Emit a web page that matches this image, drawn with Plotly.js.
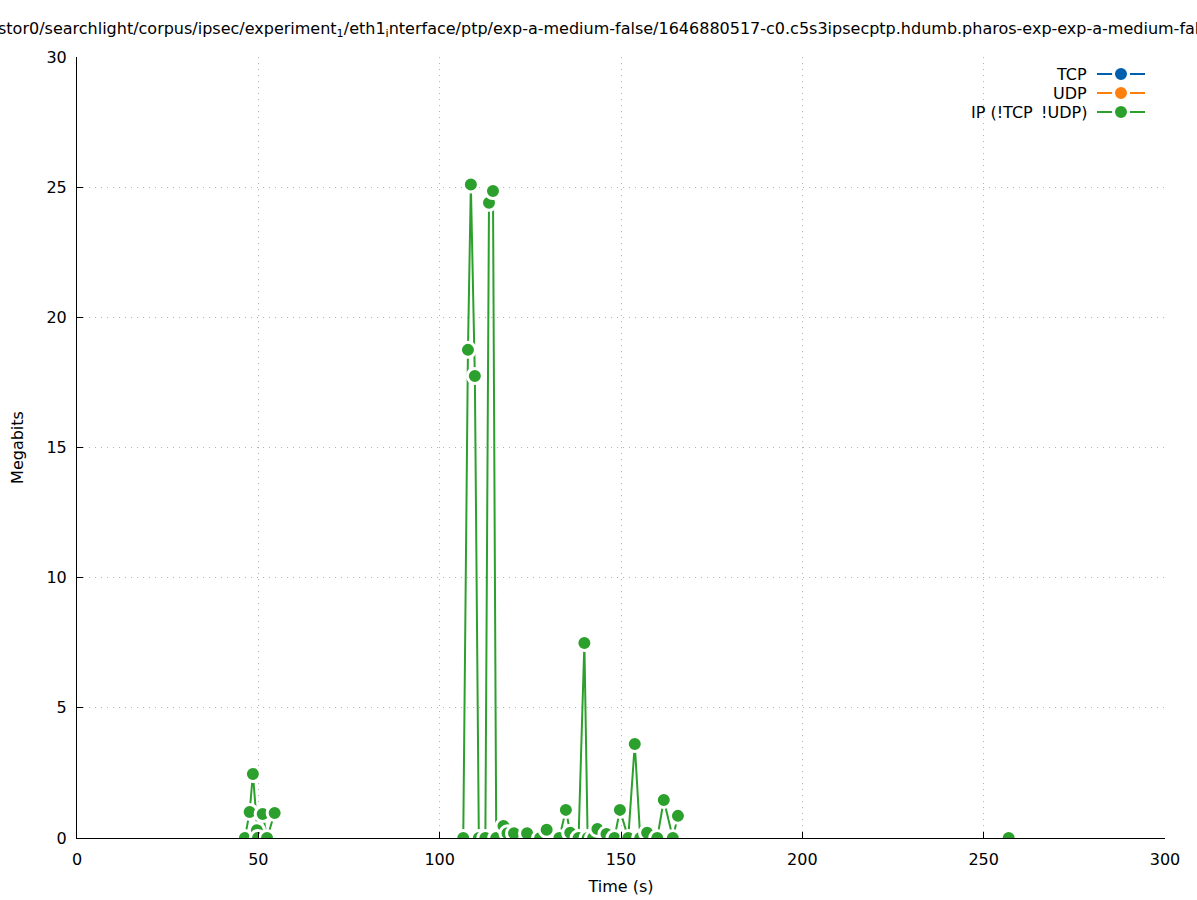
<!DOCTYPE html>
<html>
<head>
<meta charset="utf-8">
<script src="https://cdn.plot.ly/plotly-3.0.1.min.js"></script>
<style>html,body{margin:0;padding:0;background:#fff;}#chart{width:1197px;height:900px;}</style>
</head>
<body>
<div id="chart"></div>
<script>
// ---- data ----
const titleText = "stor0/searchlight/corpus/ipsec/experiment<sub>1</sub>/eth1<sub>i</sub>nterface/ptp/exp-a-medium-false/1646880517-c0.c5s3ipsecptp.hdumb.pharos-exp-exp-a-medium-false";
const seriesNames = ["TCP", "UDP", "IP (!TCP \u2009!UDP)"];
const seriesColors = ["#0060ad", "#ff7f0e", "#2ca02c"];
const tcpTime = [];
const tcpMbits = [];
const udpTime = [];
const udpMbits = [];
const ipTime = [46.3, 47.6, 48.5, 49.6, 49.9, 51.2, 52.4, 54.5, null,
  106.5, 107.8, 108.6, 109.7, 110.8, 112.6, 113.6, 114.7, 115.6, 117.6,
  118.7, 120.5, 124.1, 127.7, 129.5, 133.0, 134.8, 136.0, 138.3,
  139.9, 140.8, 142.3, 143.5, 146.0, 148.2, 149.7, 152.0, 153.8, 155.3,
  157.2, 160.0, 161.8, 164.3, 165.7, null, 256.9];
const ipMbits = [0, 1.0, 2.46, 0.3, 0, 0.92, 0, 0.96, null,
  0, 18.75, 25.1, 17.75, 0, 0, 24.4, 24.85, 0, 0.46,
  0.18, 0.18, 0.18, 0, 0.32, 0, 1.08, 0.2, 0,
  7.49, 0, 0, 0.35, 0.15, 0, 1.08, 0, 3.61, 0,
  0.2, 0, 1.46, 0, 0.85, null, 0];
const xTicks = [0, 50, 100, 150, 200, 250, 300];
const yTicks = [0, 5, 10, 15, 20, 25, 30];

// ---- layout geometry ----
const W = 1197, H = 900;
const M = {l: 77, r: 32, t: 57, b: 62};
const PW = W - M.l - M.r, PH = H - M.t - M.b;
const px = v => (v - M.l) / PW;
const py = v => (H - M.b - v) / PH;
const FONT = "DejaVu Sans, sans-serif";
const FS = 16;

function trace(x, y, i) {
  return {
    x: x, y: y, name: seriesNames[i], type: "scatter", mode: "lines+markers",
    line: {color: seriesColors[i], width: 2},
    marker: {color: seriesColors[i], size: 15, line: {color: "#ffffff", width: 3}},
    showlegend: false, connectgaps: false, hoverinfo: "x+y"
  };
}
const data = [trace(tcpTime, tcpMbits, 0), trace(udpTime, udpMbits, 1), trace(ipTime, ipMbits, 2)];

// custom gnuplot-style legend: text right, sample to the right
const shapes = [], annotations = [];
const rows = [74, 93, 112];
seriesNames.forEach((n, i) => {
  annotations.push({text: n, xref: "paper", yref: "paper", x: px(1089), y: py(rows[i]),
    xanchor: "right", yanchor: "middle", showarrow: false, font: {family: FONT, size: FS, color: "#000"}});
  shapes.push({type: "line", xref: "paper", yref: "paper", x0: px(1097), x1: px(1145), y0: py(rows[i]), y1: py(rows[i]),
    line: {color: seriesColors[i], width: 2}});
  shapes.push({type: "circle", xref: "paper", yref: "paper", x0: px(1121 - 7.5), x1: px(1121 + 7.5),
    y0: py(rows[i] + 7.5), y1: py(rows[i] - 7.5), fillcolor: seriesColors[i], line: {color: "#ffffff", width: 3}});
});
// title (gnuplot-style, overflowing the page on both sides as in the reference)
annotations.push({text: titleText, xref: "paper", yref: "paper", x: px(-4), y: py(29),
  xanchor: "left", yanchor: "middle", showarrow: false, font: {family: FONT, size: FS, color: "#000"}});

const axisCommon = {
  ticks: "inside", ticklen: 6, tickwidth: 1, tickcolor: "#000",
  tickfont: {family: FONT, size: FS, color: "#000"}, zeroline: false
};
const gridStyle = {showgrid: true, gridcolor: "#b4b4b4", griddash: "1px,5px", gridwidth: 1};
const layout = {
  width: W, height: H, margin: M, paper_bgcolor: "#fff", plot_bgcolor: "#fff",
  font: {family: FONT, size: FS, color: "#000"},
  showlegend: false,
  xaxis: Object.assign({}, axisCommon, gridStyle, {range: [0, 300], tickvals: xTicks, ticktext: xTicks.map(String),
    showline: true, linecolor: "#000", linewidth: 1, ticklabelstandoff: 7,
    title: {text: "Time (s)", font: {family: FONT, size: FS, color: "#000"}, standoff: 12}}),
  yaxis: Object.assign({}, axisCommon, gridStyle, {range: [0, 30], tickvals: yTicks, ticktext: yTicks.map(String),
    showline: true, linecolor: "#000", linewidth: 1, ticklabelstandoff: 6,
    title: {text: "Megabits", font: {family: FONT, size: FS, color: "#000"}, standoff: 18}}),
  xaxis2: Object.assign({}, axisCommon, {overlaying: "x", side: "top", range: [0, 300], tickvals: xTicks,
    showticklabels: false, showline: false, showgrid: false}),
  yaxis2: Object.assign({}, axisCommon, {overlaying: "y", side: "right", range: [0, 30], tickvals: yTicks,
    showticklabels: false, showline: false, showgrid: false}),
  shapes: shapes, annotations: annotations
};
Plotly.newPlot("chart", data, layout, {displayModeBar: false, staticPlot: true});
</script>
</body>
</html>
